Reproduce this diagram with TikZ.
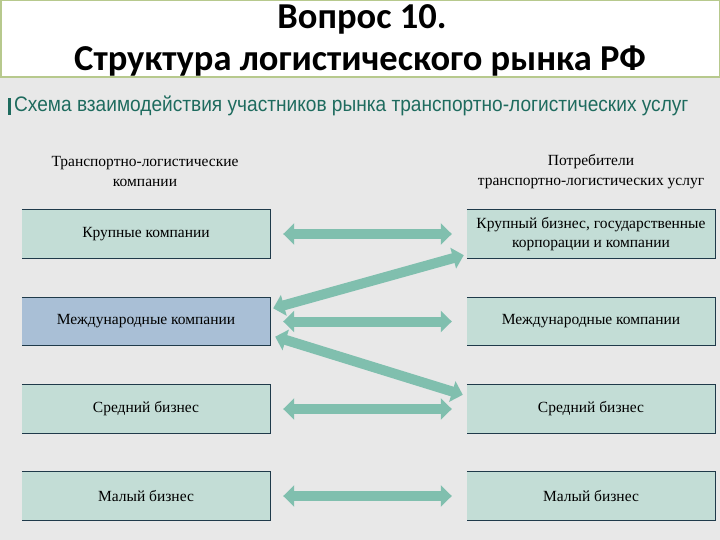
\documentclass[tikz,border=0pt]{standalone}
\usepackage{fontspec}
\usetikzlibrary{arrows.meta,calc}
\newfontfamily\titlefont{Carlito}
\newfontfamily\subfont[FakeStretch=0.91]{Liberation Sans}
\newfontfamily\boxfont{Liberation Serif}
\definecolor{bg}{HTML}{E8E8E8}
\definecolor{olive}{HTML}{B7C98D}
\definecolor{boxfill}{HTML}{C3DDD6}
\definecolor{boxblue}{HTML}{A9BFD6}
\definecolor{boxline}{HTML}{1F3A4A}
\definecolor{arr}{HTML}{80BFAE}
\definecolor{subcol}{HTML}{1E6B5E}
\tikzset{
  x=1pt,y=-1pt,
  cell/.style={minimum width=248pt,minimum height=48pt,inner sep=0pt,fill=boxfill,
    font=\boxfont\fontsize{15.5}{19.5}\selectfont,align=center,text=black},
  edge3/.style={draw=boxline,line width=1.3pt},
  link/.style={draw=arr,line width=10pt,{Triangle[width=21pt,length=11pt]}-{Triangle[width=21pt,length=11pt]}},
  head/.style={font=\boxfont\fontsize{15.5}{20}\selectfont,align=center,text=black},
  ttl/.style={font=\titlefont\bfseries\fontsize{36.5}{40}\selectfont,inner sep=0pt}
}
\begin{document}
\begin{tikzpicture}
\useasboundingbox (0,0) rectangle (720,540);
\fill[bg] (0,0) rectangle (720,540);
\fill[white] (0,0) rectangle (720,77);
\draw[olive,line width=1.5pt] (0.75,0.75) rectangle (719.25,77);
\node[ttl] (t1) at (362,19) {Вопрос 10.};
\node[ttl] (t2) at (360,61) {Структура логистического рынка РФ};
\fill[subcol] (8,98) rectangle (10.5,115);
\node[anchor=west,text=subcol,font=\subfont\fontsize{21}{24}\selectfont,inner sep=0pt] (sub) at (14,106) {Схема взаимодействия участников рынка транспортно-логистических услуг};
\node[head] (hl) at (145,172) {Транспортно-логистические\\компании};
\node[head] (hr) at (591,172) {Потребители\\транспортно-логистических услуг};
% boxes
\node[cell] (L1) at (146,234) {Крупные компании};
\node[cell,fill=boxblue] (L2) at (146,321.5) {Международные компании};
\node[cell] (L3) at (146,409) {Средний бизнес};
\node[cell] (L4) at (146,496) {Малый бизнес};
\node[cell] (R1) at (591,234) {Крупный бизнес, государственные\\корпорации и компании};
\node[cell] (R2) at (591,321.5) {Международные компании};
\node[cell] (R3) at (591,409) {Средний бизнес};
\node[cell] (R4) at (591,496) {Малый бизнес};
\foreach \n in {L1,L2,L3,L4,R1,R2,R3,R4}{
  \draw[edge3] (\n.north west) -- (\n.north east) -- (\n.south east) -- (\n.south west);
}
% arrows
\foreach \a/\b in {L1/R1,L2/R2,L3/R3,L4/R4}{
  \draw[link,shorten <=13pt,shorten >=15pt] (\a.east) -- (\b.west);
}
\draw[link] ($(L2.north east)+(3,11)$) -- ($(R1.south west)+(-3,-3)$);
\draw[link] ($(L2.south east)+(5,-9)$) -- ($(R3.north west)+(-4,10)$);
\end{tikzpicture}
\end{document}
